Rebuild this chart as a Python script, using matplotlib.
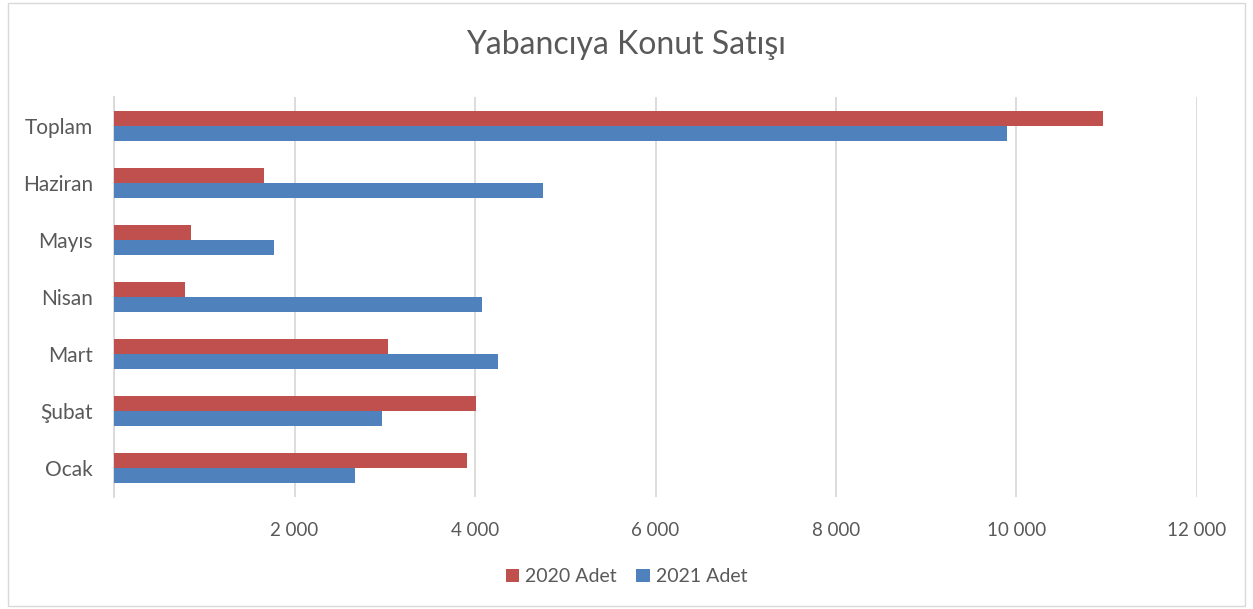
import numpy as np
import matplotlib
matplotlib.use('Agg')
import matplotlib.pyplot as plt
from matplotlib.patches import Rectangle

# data
categories = ['Ocak', 'Şubat', 'Mart', 'Nisan', 'Mayıs', 'Haziran', 'Toplam']
adet_2020 = [3910, 4010, 3034, 791, 857, 1663, 10953]
adet_2021 = [2675, 2964, 4250, 4080, 1774, 4748, 9893]
x_ticks = [0, 2000, 4000, 6000, 8000, 10000, 12000]
x_labels = ['', '2 000', '4 000', '6 000', '8 000', '10 000', '12 000']

plt.rcParams['font.family'] = ['Lato', 'DejaVu Sans']
text_color = '#595959'
red = '#C0504D'
blue = '#4F81BD'

fig = plt.figure(figsize=(12.53, 6.09), dpi=100)
ax = fig.add_axes([0.091, 0.184, 0.8643, 0.6567])

y = np.arange(len(categories))
h = 0.263
ax.barh(y + h / 2, adet_2020, height=h, color=red, label='2020 Adet', zorder=3)
ax.barh(y - h / 2, adet_2021, height=h, color=blue, label='2021 Adet', zorder=3)

ax.set_xlim(0, 12000)
ax.set_ylim(-0.5, len(categories) - 0.5)
ax.set_yticks(y)
ax.set_yticklabels(categories, fontsize=15, color=text_color)
ax.set_xticks(x_ticks)
ax.set_xticklabels(x_labels, fontsize=13.5, color=text_color)
ax.tick_params(axis='both', length=0)
ax.tick_params(axis='x', pad=18)
ax.tick_params(axis='y', pad=15)
ax.grid(axis='x', color='#D9D9D9', linewidth=1.3, zorder=0)

for s in ['top', 'right', 'bottom']:
    ax.spines[s].set_visible(False)
ax.spines['left'].set_color('#D9D9D9')
ax.spines['left'].set_linewidth(1.3)

fig.suptitle('Yabancıya Konut Satışı', fontsize=23, color=text_color,
             fontweight='normal', y=0.95)

fig.legend(loc='lower center', bbox_to_anchor=(0.5, 0.01), ncol=2, frameon=False,
           fontsize=14, handlelength=0.7, handleheight=0.7, handletextpad=0.3,
           columnspacing=1.0, labelcolor=text_color)

# chart border
fig.patches.append(Rectangle((0.006, 0.005), 0.988, 0.99, transform=fig.transFigure,
                             fill=False, edgecolor='#D9D9D9', linewidth=1))

fig.savefig('out.png', dpi=100)
